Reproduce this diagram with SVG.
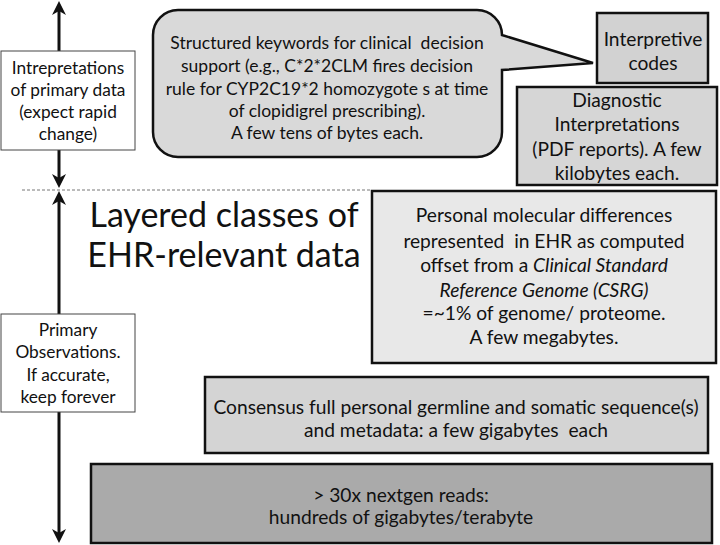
<svg xmlns="http://www.w3.org/2000/svg" width="720" height="545" viewBox="0 0 720 545">
<style>
text{font-family:Lato,"Open Sans","Liberation Sans",sans-serif;fill:#111;text-anchor:middle;white-space:pre}
.box{stroke:#111;stroke-width:2.5}
.lbl{fill:#fff;stroke:#444;stroke-width:1}
.ax{stroke:#111;stroke-width:3;fill:none}
.ah{fill:#111}
.s15{font-size:17.3px}
.s17{font-size:19.2px}
.s16{font-size:17.5px}
</style>
<defs>
<path id="up" d="M0,0 L-7,14 L0,10 L7,14 Z"/>
</defs>
<g id="connectors">
<line class="ax" x1="59" y1="6" x2="59" y2="182"/>
<line class="ax" x1="59" y1="196" x2="59" y2="538"/>
<use href="#up" class="ah" transform="translate(59,1)"/>
<use href="#up" class="ah" transform="translate(59,188) rotate(180)"/>
<use href="#up" class="ah" transform="translate(59,191)"/>
<use href="#up" class="ah" transform="translate(59,543) rotate(180)"/>
<line x1="22" y1="190" x2="372" y2="190" stroke="#777" stroke-width="1" stroke-dasharray="3,2"/>
</g>
<g id="label-interpretations">
<rect class="lbl" x="1" y="51" width="134" height="99"/>
<text class="s15" x="68" y="74">Intrepretations</text>
<text class="s15" x="68" y="96">of primary data</text>
<text class="s15" x="68" y="118">(expect rapid</text>
<text class="s15" x="68" y="140">change)</text>
</g>
<g id="label-primary">
<rect class="lbl" x="1" y="314" width="134" height="98"/>
<text class="s15" x="68" y="336">Primary</text>
<text class="s15" x="68" y="358">Observations.</text>
<text class="s15" x="68" y="381">If accurate,</text>
<text class="s15" x="68" y="403">keep forever</text>
</g>
<g id="title">
<text x="224" y="227" style="font-size:34px">Layered classes of</text>
<text x="224" y="267" style="font-size:34px">EHR-relevant data</text>
</g>
<g id="structured-keywords">
<path class="box" fill="#d9d9d9" d="M178,10 H477 A25,25 0 0 1 502,35 L593,63 L502,70 V132 A25,25 0 0 1 477,157 H178 A25,25 0 0 1 153,132 V35 A25,25 0 0 1 178,10 Z"/>
<text class="s16" x="327" y="49">Structured keywords for clinical  decision</text>
<text class="s16" x="327" y="72">support (e.g., C*2*2CLM fires decision</text>
<text class="s16" x="327" y="95">rule for CYP2C19*2 homozygote s at time</text>
<text class="s16" x="327" y="117">of clopidigrel prescribing).</text>
<text class="s16" x="327" y="139">A few tens of bytes each.</text>
</g>
<g id="interpretive-codes">
<rect class="box" fill="#d2d2d2" x="597" y="13" width="111" height="70"/>
<text class="s17" x="653" y="46">Interpretive</text>
<text class="s17" x="653" y="70">codes</text>
</g>
<g id="diagnostic">
<rect class="box" fill="#d6d6d6" x="517" y="87" width="200" height="98"/>
<text class="s17" x="617" y="107">Diagnostic</text>
<text class="s17" x="617" y="131">Interpretations</text>
<text class="s17" x="617" y="156">(PDF reports). A few</text>
<text class="s17" x="617" y="180">kilobytes each.</text>
</g>
<g id="personal-molecular">
<rect class="box" fill="#e8e8e8" x="372" y="191" width="344" height="172"/>
<text class="s17" x="544" y="222">Personal molecular differences</text>
<text class="s17" x="544" y="248">represented  in EHR as computed</text>
<text class="s17" x="544" y="272">offset from a <tspan font-style="italic">Clinical Standard</tspan></text>
<text class="s17" x="544" y="297" font-style="italic">Reference Genome (CSRG)</text>
<text class="s17" x="544" y="320">=~1% of genome/ proteome.</text>
<text class="s17" x="544" y="344">A few megabytes.</text>
</g>
<g id="consensus">
<rect class="box" fill="#d4d4d4" x="205" y="377" width="503" height="76"/>
<text class="s17" x="456" y="414">Consensus full personal germline and somatic sequence(s)</text>
<text class="s17" x="456" y="437">and metadata: a few gigabytes  each</text>
</g>
<g id="nextgen-reads">
<rect class="box" fill="#aaaaaa" x="91" y="464" width="621" height="79"/>
<text class="s17" x="401" y="502">&gt; 30x nextgen reads:</text>
<text class="s17" x="401" y="524">hundreds of gigabytes/terabyte</text>
</g>
</svg>
